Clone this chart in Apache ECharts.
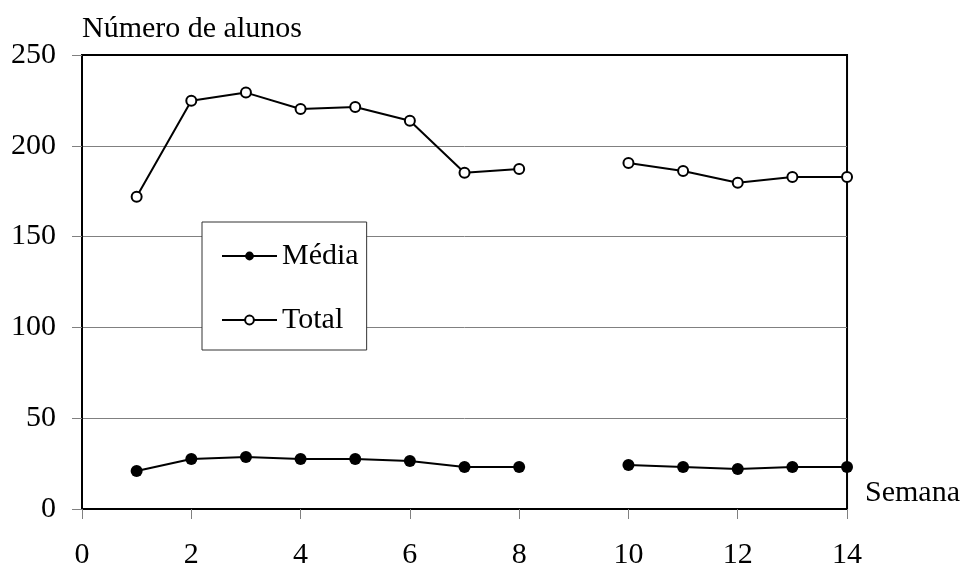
<!DOCTYPE html>
<html>
<head>
<meta charset="utf-8">
<title>Número de alunos</title>
<script src="https://cdn.jsdelivr.net/npm/echarts@6/dist/echarts.min.js"></script>
<style>
  html, body { margin: 0; padding: 0; background: #fff; }
</style>
</head>
<body>
<div id="main" style="width: 963px; height: 572px;"></div>
<script type="text/javascript">
// semanas (a semana 9 não tem dados)
var semanas = [1, 2, 3, 4, 5, 6, 7, 8, 9, 10, 11, 12, 13, 14];
var media = [20.9, 27.5, 28.6, 27.5, 27.5, 26.4, 23.1, 23.1, null, 24.2, 23.1, 22.0, 23.1, 23.1];
var total = [172, 224.8, 229.3, 220.3, 221.4, 213.8, 185.2, 187.2, null, 190.5, 186.1, 179.7, 182.8, 182.8];

var FONT = 'Liberation Serif';

function pares(valores) {
	return semanas.map(function (s, i) {
		return [s, valores[i] == null ? '-' : valores[i]];
	});
}

var myChart = echarts.init(document.getElementById('main'));

var option = {
	animation: false,
	backgroundColor: '#fff',
	textStyle: { fontFamily: FONT, color: '#000' },
	grid: {
		left: 82, right: 115, top: 55, bottom: 63,
		show: true,
		borderColor: '#000',
		borderWidth: 2
	},
	legend: {
		orient: 'vertical',
		left: 202,
		top: 222,
		padding: [19, 8, 15, 19],
		backgroundColor: '#fff',
		borderColor: '#333',
		borderWidth: 1,
		itemWidth: 55,
		itemHeight: 11,
		itemGap: 34,
		textStyle: { fontFamily: FONT, fontSize: 30, color: '#000', lineHeight: 30 },
		data: ['Média', 'Total']
	},
	xAxis: {
		type: 'value',
		min: 0, max: 14, interval: 2,
		name: 'Semana',
		nameLocation: 'end',
		nameGap: 18,
		nameTextStyle: { fontFamily: FONT, fontSize: 30, color: '#000', align: 'left', verticalAlign: 'bottom', lineHeight: 32 },
		axisLine: { lineStyle: { color: '#000', width: 2 } },
		axisTick: { show: true, inside: false, length: 10, lineStyle: { color: '#808080', width: 1 } },
		axisLabel: { fontFamily: FONT, fontSize: 30, color: '#000', margin: 31 },
		splitLine: { show: false }
	},
	yAxis: {
		type: 'value',
		min: 0, max: 250, interval: 50,
		name: 'Número de alunos',
		nameLocation: 'end',
		nameGap: 26,
		nameTextStyle: { fontFamily: FONT, fontSize: 30, color: '#000', align: 'left', verticalAlign: 'middle' },
		axisLine: { show: true, lineStyle: { color: '#000', width: 2 } },
		axisTick: { show: true, inside: false, length: 10, lineStyle: { color: '#808080', width: 1 } },
		axisLabel: { fontFamily: FONT, fontSize: 30, color: '#000', margin: 26 },
		splitLine: { show: true, showMaxLine: false, showMinLine: false, lineStyle: { color: '#808080', width: 1 } }
	},
	series: [
		{
			name: 'Média',
			type: 'line',
			data: pares(media),
			connectNulls: false,
			symbol: 'circle',
			symbolSize: 12,
			itemStyle: { color: '#000', borderColor: '#000', borderWidth: 0 },
			lineStyle: { color: '#000', width: 2 },
			z: 3
		},
		{
			name: 'Total',
			type: 'line',
			data: pares(total),
			connectNulls: false,
			symbol: 'circle',
			symbolSize: 10,
			itemStyle: { color: '#fff', borderColor: '#000', borderWidth: 2 },
			lineStyle: { color: '#000', width: 2 },
			z: 3
		}
	]
};

myChart.setOption(option);
</script>
</body>
</html>
